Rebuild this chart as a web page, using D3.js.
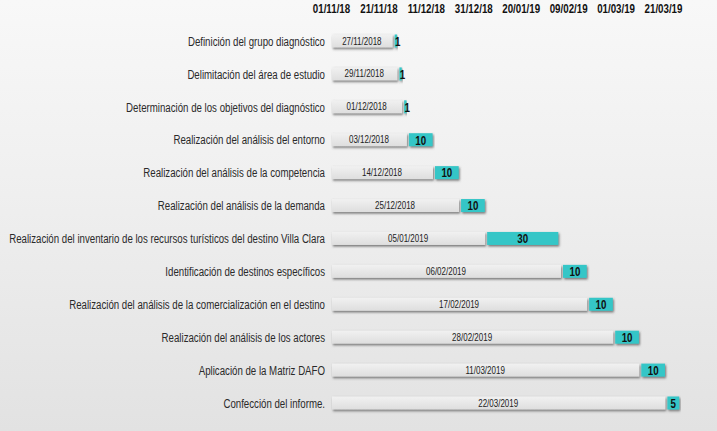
<!DOCTYPE html>
<html><head><meta charset="utf-8">
<script src="https://cdn.jsdelivr.net/npm/d3@7"></script>
<style>html,body{margin:0;padding:0;background:#eee;}svg{display:block;}</style>
</head><body>
<svg id="c" width="717" height="431"></svg>
<script>
const tasks = [
  "Definición del grupo diagnóstico",
  "Delimitación del área de estudio",
  "Determinación de los objetivos del diagnóstico",
  "Realización del análisis del entorno",
  "Realización del análisis de la competencia",
  "Realización del análisis de la demanda",
  "Realización del inventario de los recursos turísticos del destino Villa Clara",
  "Identificación de destinos específicos",
  "Realización del análisis de la comercialización en el destino",
  "Realización del análisis de los actores",
  "Aplicación de la Matriz DAFO",
  "Confección del informe."
];
const startDates = ["27/11/2018","29/11/2018","01/12/2018","03/12/2018","14/12/2018","25/12/2018","05/01/2019","06/02/2019","17/02/2019","28/02/2019","11/03/2019","22/03/2019"];
const durations = [1,1,1,10,10,10,30,10,10,10,10,5];
const tickLabels = ["01/11/18","21/11/18","11/12/18","31/12/18","20/01/19","09/02/19","01/03/19","21/03/19"];

const parseFull = d3.timeParse("%d/%m/%Y");
const parseShort = d3.timeParse("%d/%m/%y");
const ticks = tickLabels.map(parseShort);
const data = tasks.map((t,i)=>({task:t, start:parseFull(startDates[i]), label:startDates[i], dur:durations[i]}));

const svg = d3.select("#c");
const defs = svg.append("defs");
const bg = defs.append("linearGradient").attr("id","bg").attr("x1",0).attr("y1",0).attr("x2",0).attr("y2",1);
bg.append("stop").attr("offset","0%").attr("stop-color","#f8f8f8");
bg.append("stop").attr("offset","45%").attr("stop-color","#efefef");
bg.append("stop").attr("offset","100%").attr("stop-color","#e2e2e2");
const gg = defs.append("linearGradient").attr("id","gbar").attr("x1",0).attr("y1",0).attr("x2",0).attr("y2",1);
gg.append("stop").attr("offset","0%").attr("stop-color","#f1f1f1");
gg.append("stop").attr("offset","100%").attr("stop-color","#dedede");
const f = defs.append("filter").attr("id","sh").attr("x","-5%").attr("y","-30%").attr("width","115%").attr("height","180%");
f.append("feDropShadow").attr("dx",1).attr("dy",1.5).attr("stdDeviation",0.8).attr("flood-color","#555").attr("flood-opacity",0.8);

svg.append("rect").attr("width",717).attr("height",431).attr("fill","url(#bg)");

const x = d3.scaleTime().domain([ticks[0], ticks[ticks.length-1]]).range([331, 663]);
const y = d3.scalePoint().domain(tasks).range([41, 403]);
const bh = 13;
const font = "'Liberation Sans',Arial,sans-serif";
const SX = 0.8;

// axis
const axis = d3.axisTop(x).tickValues(ticks).tickFormat((d,i)=>tickLabels[i]).tickSize(0).tickPadding(0);
const ag = svg.append("g").attr("transform","translate(0,9)").call(axis);
ag.select(".domain").remove();
ag.selectAll(".tick text").attr("font-family",font).attr("font-size",12.5).attr("font-weight","bold").attr("fill","#111")
  .attr("dy","0.35em").attr("transform",`scale(0.78,1)`);

const rows = svg.append("g").selectAll("g").data(data).join("g");
const lab = rows.append("text")
  .attr("transform",d=>`translate(325,${y(d.task)}) scale(${SX},1)`).attr("dy","0.35em")
  .attr("text-anchor","end").attr("font-family",font).attr("font-size",13.5).attr("fill","#2a2a2a")
  .text(d=>d.task);
// fit longest label to the reference width
let maxW = 0; lab.each(function(){maxW=Math.max(maxW,this.getComputedTextLength());});
const sLab = Math.min(SX, 316/maxW);
lab.attr("transform",d=>`translate(325,${y(d.task)}) scale(${sLab},1)`);

rows.append("rect")
  .attr("x",x(ticks[0])+1).attr("y",d=>y(d.task)-bh/2)
  .attr("width",d=>x(d.start)-x(ticks[0])-1).attr("height",bh)
  .attr("fill","url(#gbar)").attr("filter","url(#sh)");
rows.append("text")
  .attr("transform",d=>`translate(${(x(ticks[0])+x(d.start))/2},${y(d.task)}) scale(${SX},1)`).attr("dy","0.35em")
  .attr("text-anchor","middle").attr("font-family",font).attr("font-size",10).attr("fill","#222")
  .text(d=>d.label);
rows.append("rect")
  .attr("x",d=>x(d.start)+2).attr("y",d=>y(d.task)-bh/2)
  .attr("width",d=>Math.max(2, x(d3.timeDay.offset(d.start,d.dur))-x(d.start)))
  .attr("height",bh)
  .attr("fill","#34c6c7").attr("filter","url(#sh)");
rows.append("text")
  .attr("transform",d=>{const w=x(d3.timeDay.offset(d.start,d.dur))-x(d.start); return `translate(${x(d.start)+2+Math.max(w/2,3)},${y(d.task)}) scale(0.75,1)`;})
  .attr("dy","0.37em")
  .attr("text-anchor","middle").attr("font-family",font).attr("font-size",13).attr("font-weight","bold").attr("fill","#111")
  .text(d=>d.dur);
</script>
</body></html>
